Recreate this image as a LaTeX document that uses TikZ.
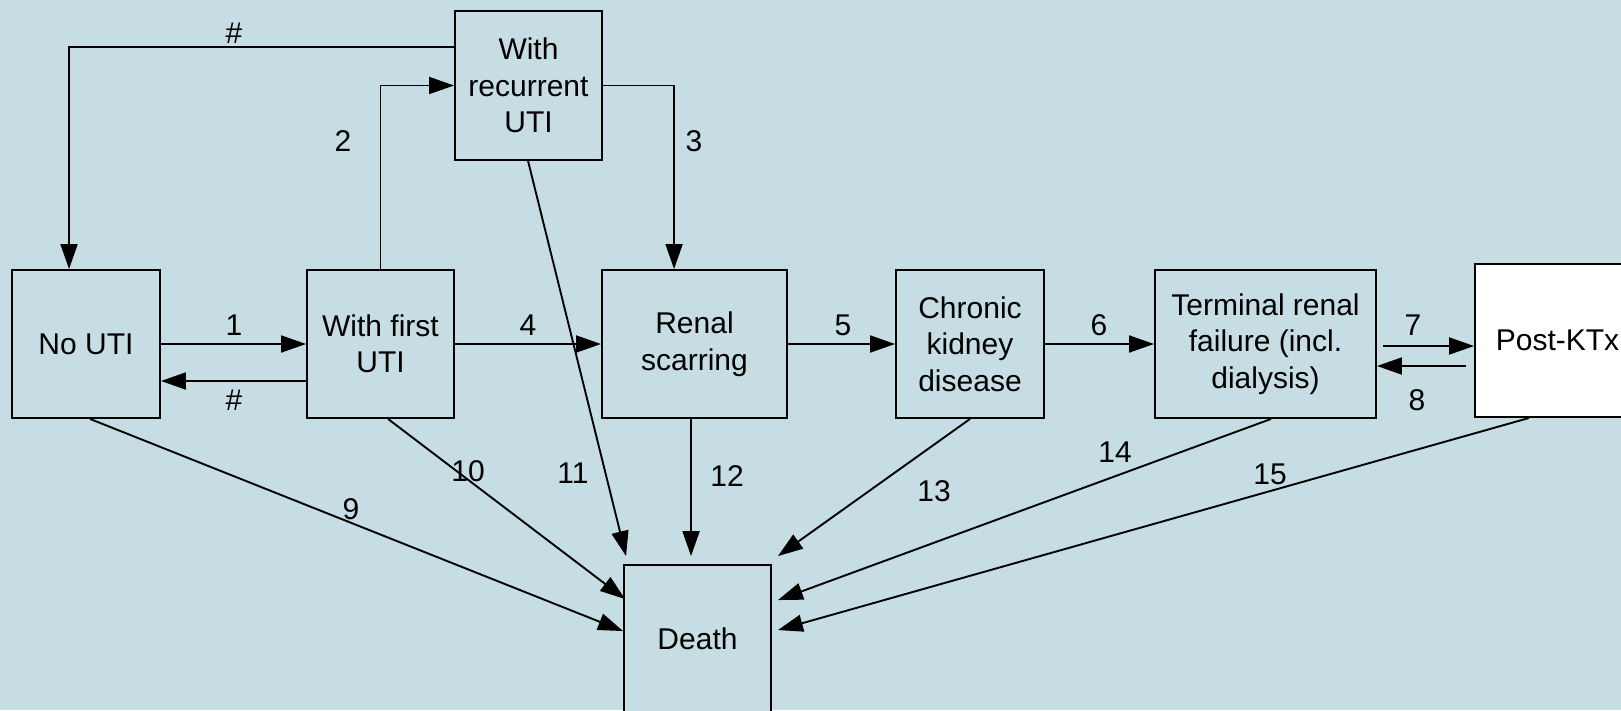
\documentclass[tikz,border=0pt]{standalone}
\usepackage{fontspec}
\setmainfont{Liberation Sans}
\usetikzlibrary{calc,arrows.meta}
\definecolor{bgc}{RGB}{198,222,227}
\begin{document}
\begin{tikzpicture}[x=1pt,y=-1pt,
  box/.style={draw=black,line width=1.9pt,fill=bgc,align=center,inner sep=0pt,
    font=\fontsize{30}{36.5}\selectfont},
  lab/.style={font=\fontsize{30}{36}\selectfont,inner sep=0pt},
  conn/.style={line width=1.9pt,-{Triangle[length=25pt,width=17pt]}},
  seg/.style={line width=1.9pt}]
\useasboundingbox[fill=bgc] (0,0) rectangle (1621,710);
\node[box,minimum width=148pt,minimum height=148pt] (nouti) at (86,344) {No UTI};
\node[box,minimum width=147pt,minimum height=148pt] (first) at (380.5,344) {With first\\UTI};
\node[box,minimum width=147pt,minimum height=149pt] (rec) at (528.5,85.5) {With\\recurrent\\UTI};
\node[box,minimum width=185pt,minimum height=148pt] (renal) at (694.5,344) {Renal\\scarring};
\node[box,minimum width=148pt,minimum height=148pt] (ckd) at (970,344) {Chronic\\kidney\\disease};
\node[box,minimum width=221pt,minimum height=148pt] (term) at (1265.5,344) {Terminal renal\\failure (incl.\\dialysis)};
\node[box,fill=white,minimum width=165pt,minimum height=153pt] (post) at (1557.5,340.5) {Post-KTx};
\node[box,minimum width=147pt,minimum height=147pt] (death) at (697.5,638.5) {Death};

% horizontal transitions
\draw[conn] (nouti.east) -- (first.west);
\draw[conn] ($(first.west)+(0,37)$) -- ($(nouti.east)+(0,37)$);
\draw[conn] (first.east) -- (renal.west);
\draw[conn] (renal.east) -- (ckd.west);
\draw[conn] (ckd.east) -- (term.west);
\draw[conn] ($(term.east)+(6,2)$) -- ($(post.west |- term.east)+(0,2)$);
\draw[conn] ($(post.west |- term.east)+(-8,22)$) -- ($(term.east)+(0,22)$);
% top routes
\draw[conn] ($(rec.north west)+(0,37)$) -| ($(nouti.north west)+(58,0)$);
\draw[conn] (first.north) |- (rec.west);
\draw[conn] (rec.east) -| ($(renal.north west)+(73,0)$);
% to death
\draw[conn] ($(nouti.south west)+(79,0)$) -- ($(death.north west)+(0,67)$);
\draw[conn] ($(first.south west)+(82,0)$) -- ($(death.north west)+(2,35)$);
\draw[conn] ($(rec.south west)+(74,0)$) -- ($(death.north west)+(3,-8)$);
\draw[conn] ($(renal.south west)+(90,0)$) -- ($(death.north west)+(68,-8)$);
\draw[conn] (ckd.south) -- ($(death.north east)+(6,-8)$);
\draw[conn] ($(term.south west)+(117,0)$) -- ($(death.north east)+(6,36)$);
\draw[conn] ($(post.south west)+(55,0)$) -- ($(death.north east)+(6,66)$);

% labels
\node[lab] (lh1) at (234,33) {\#};
\node[lab] (l2) at (343,141) {2};
\node[lab] (l3) at (694,141) {3};
\node[lab] (l1) at (234,325) {1};
\node[lab] (lh2) at (234,400) {\#};
\node[lab] (l4) at (528,325) {4};
\node[lab] (l5) at (843,325) {5};
\node[lab] (l6) at (1099,325) {6};
\node[lab] (l7) at (1413,325) {7};
\node[lab] (l8) at (1417,400) {8};
\node[lab] (l9) at (351,509) {9};
\node[lab] (l10) at (468,471) {10};
\node[lab] (l11) at (573,473) {11};
\node[lab] (l12) at (727,476) {12};
\node[lab] (l13) at (934,491) {13};
\node[lab] (l14) at (1115,452) {14};
\node[lab] (l15) at (1270,474) {15};
\end{tikzpicture}
\end{document}
